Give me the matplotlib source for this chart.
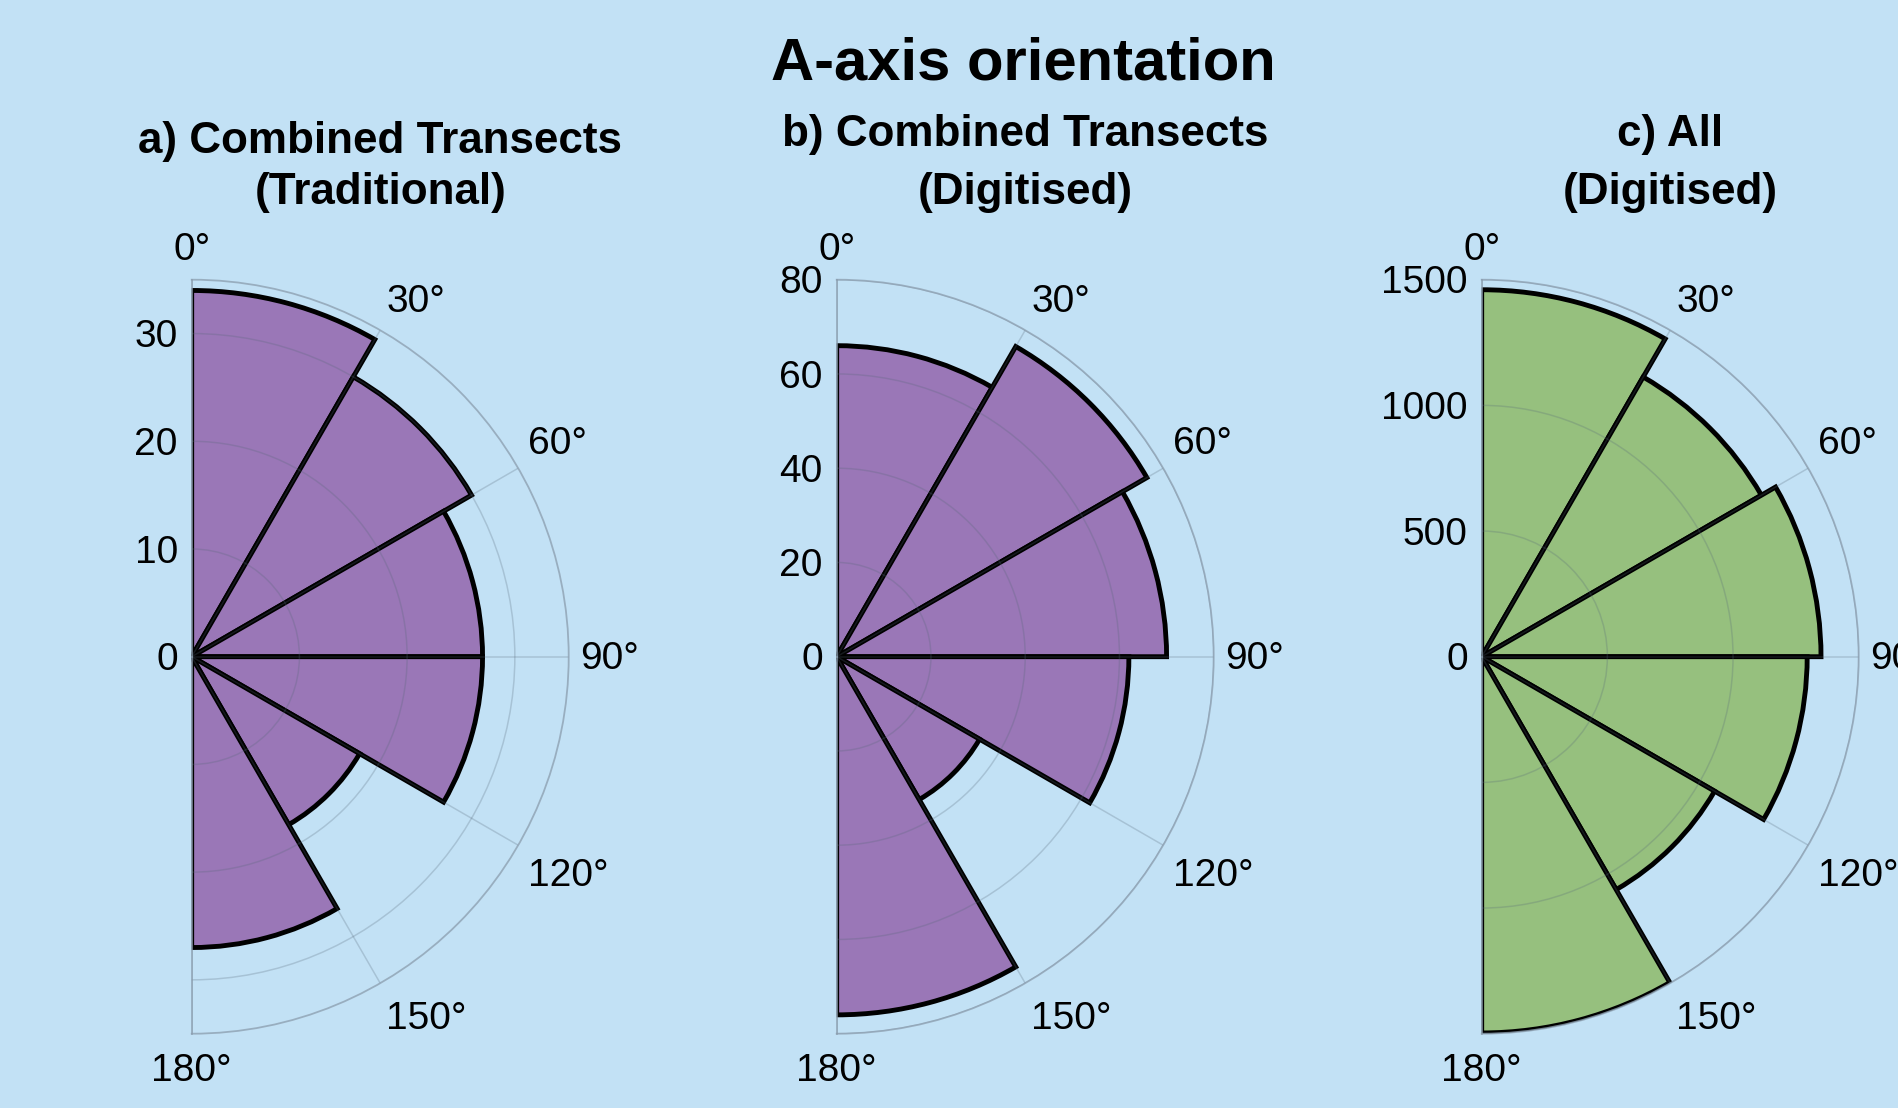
import numpy as np
import matplotlib
matplotlib.use("Agg")
import matplotlib.pyplot as plt

plt.rcParams['font.family'] = ['Liberation Sans', 'DejaVu Sans']

# Orientation bins (degrees) and counts per bin
bin_edges_deg = [0, 30, 60, 90, 120, 150, 180]
traditional_counts = [34, 30, 27, 27, 18, 27]
digitised_counts = [66, 76, 70, 62, 35, 76]
all_digitised_counts = [1460, 1285, 1350, 1295, 1070, 1497]

panel_line1 = ["a) Combined Transects", "b) Combined Transects", "c) All"]
panel_line2 = ["(Traditional)", "(Digitised)", "(Digitised)"]
r_max = [35, 80, 1500]
r_ticks = [[0, 10, 20, 30], [0, 20, 40, 60, 80], [0, 500, 1000, 1500]]
theta_ticks_deg = [0, 30, 60, 90, 120, 150, 180]
theta_tick_labels = [f"{t}°" for t in theta_ticks_deg]

bg = '#c2e1f5'
purple = '#9a77b7'
green = '#96c07e'
panel_colors = [purple, purple, green]
panel_counts = [traditional_counts, digitised_counts, all_digitised_counts]

W, H = 1899, 1108
fig = plt.figure(figsize=(W / 100, H / 100), dpi=100, facecolor=bg)

radius_px = 377.0
centre_y_px = 656.7
centre_x_px = [191.7, 836.7, 1481.7]
label_size = 28
theta_pad = 8.5   # points, outward from the rim

for i in range(3):
    side = 2 * radius_px
    left = (centre_x_px[i] - radius_px / 2) / W
    bottom = (H - centre_y_px - radius_px) / H
    ax = fig.add_axes([left, bottom, side / W, side / H], projection='polar')
    ax.set_facecolor(bg)
    ax.set_theta_zero_location('N')
    ax.set_theta_direction(-1)
    ax.set_thetamin(0)
    ax.set_thetamax(180)

    starts = np.deg2rad(bin_edges_deg[:-1])
    widths = np.deg2rad(np.diff(bin_edges_deg))
    ax.bar(starts, panel_counts[i], width=widths, align='edge',
           color=panel_colors[i], edgecolor='black', linewidth=3.5)

    ax.set_ylim(0, r_max[i])
    ax.set_yticks(r_ticks[i])
    ax.set_yticklabels([])
    ax.set_xticks(np.deg2rad(theta_ticks_deg))
    ax.set_xticklabels([])

    # angle labels just outside the rim
    for t, txt in zip(theta_ticks_deg, theta_tick_labels):
        a = np.deg2rad(t)
        dx = theta_pad * np.sin(a)
        dy = theta_pad * np.cos(a)
        if t in (0, 180):
            ha = 'center'
        else:
            ha = 'left'
        if t < 90:
            va = 'bottom'
        elif t == 90:
            va = 'center'
            dy -= 2.0
        else:
            va = 'top'
            dy -= 5.2
        ax.annotate(txt, xy=(a, r_max[i]), xycoords='data',
                    xytext=(dx, dy), textcoords='offset points',
                    ha=ha, va=va, fontsize=label_size, annotation_clip=False)

    # radial labels along the 0° edge
    for r in r_ticks[i]:
        ax.annotate(str(r), xy=(0, r), xycoords='data',
                    xytext=(-10, -2.6), textcoords='offset points',
                    ha='right', va='center', fontsize=label_size,
                    annotation_clip=False)

    ax.grid(True, color='#556677', alpha=0.25, linewidth=1.1)
    for name, sp in ax.spines.items():
        sp.set_color('#8b9dae')
        sp.set_alpha(0.75)
        sp.set_linewidth(1.3)

    cx = (centre_x_px[i] + radius_px / 2) / W
    y1 = 152.7 if i == 0 else 146.0
    fig.text(cx, 1 - y1 / H, panel_line1[i], ha='center', va='baseline',
             fontsize=31.7, fontweight='bold')
    fig.text(cx, 1 - 204.0 / H, panel_line2[i], ha='center', va='baseline',
             fontsize=31.7, fontweight='bold')

fig.text(1023 / W, 1 - 80 / H, "A-axis orientation", ha='center', va='baseline',
         fontsize=43, fontweight='bold')

fig.savefig('out.png', dpi=100, facecolor=bg)
